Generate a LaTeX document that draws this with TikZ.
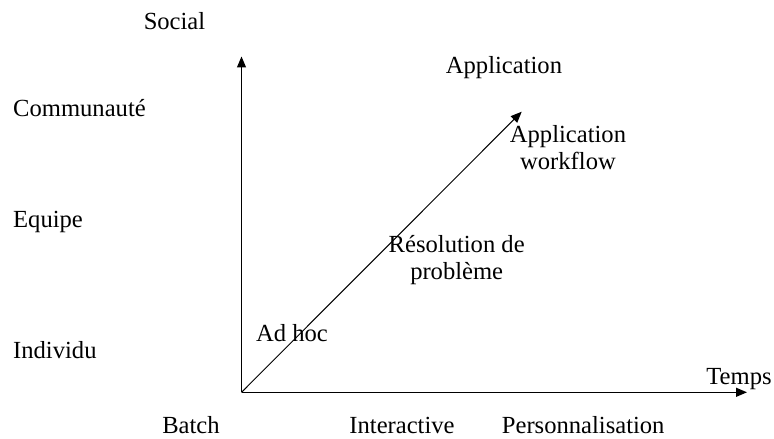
\documentclass[tikz,border=0pt]{standalone}
\usepackage{fontspec}
\setmainfont{Liberation Serif}
\usetikzlibrary{arrows.meta}

\tikzset{
  lbl/.style={inner sep=0pt, font=\fontsize{24.6}{27}\selectfont, align=center},
  axis/.style={line width=1.2pt, -{Triangle[length=11pt,width=9pt]}}
}

\begin{document}
\begin{tikzpicture}[x=1pt, y=1pt]

\useasboundingbox (0,0) rectangle (774,439);

\coordinate (orig) at (241.5,46.7);
\coordinate (ytip) at (241.5,382.5);
\coordinate (xtip) at (747,46.7);
\coordinate (dtip) at (521.7,327.3);

\draw[axis] (orig)--(ytip);
\draw[axis] (orig)--(xtip);
\draw[axis, line width=1pt] (orig)--(dtip);

% axe vertical
\node[lbl, anchor=base] (social) at (174.5,409) {Social};
\node[lbl, anchor=base west] (communaute) at (13,322.3) {Communaut\'e};
\node[lbl, anchor=base west] (equipe) at (13,211) {Equipe};
\node[lbl, anchor=base west] (individu) at (13,80) {Individu};

% axe horizontal
\node[lbl, anchor=base] (temps) at (739,54) {Temps};
\node[lbl, anchor=base] (batch) at (191,5) {Batch};
\node[lbl, anchor=base] (interactive) at (402,5) {Interactive};
\node[lbl, anchor=base west] (perso) at (501.7,5) {Personnalisation};

% diagonale
\node[lbl, anchor=base] (application) at (504,365) {Application};
\node[lbl, anchor=base] (workflow) at (568,269) {Application\\workflow};
\node[lbl, anchor=base] (resolution) at (456.7,159) {R\'esolution de\\probl\`eme};
\node[lbl, anchor=base] (adhoc) at (292,97.3) {Ad hoc};

\end{tikzpicture}
\end{document}
